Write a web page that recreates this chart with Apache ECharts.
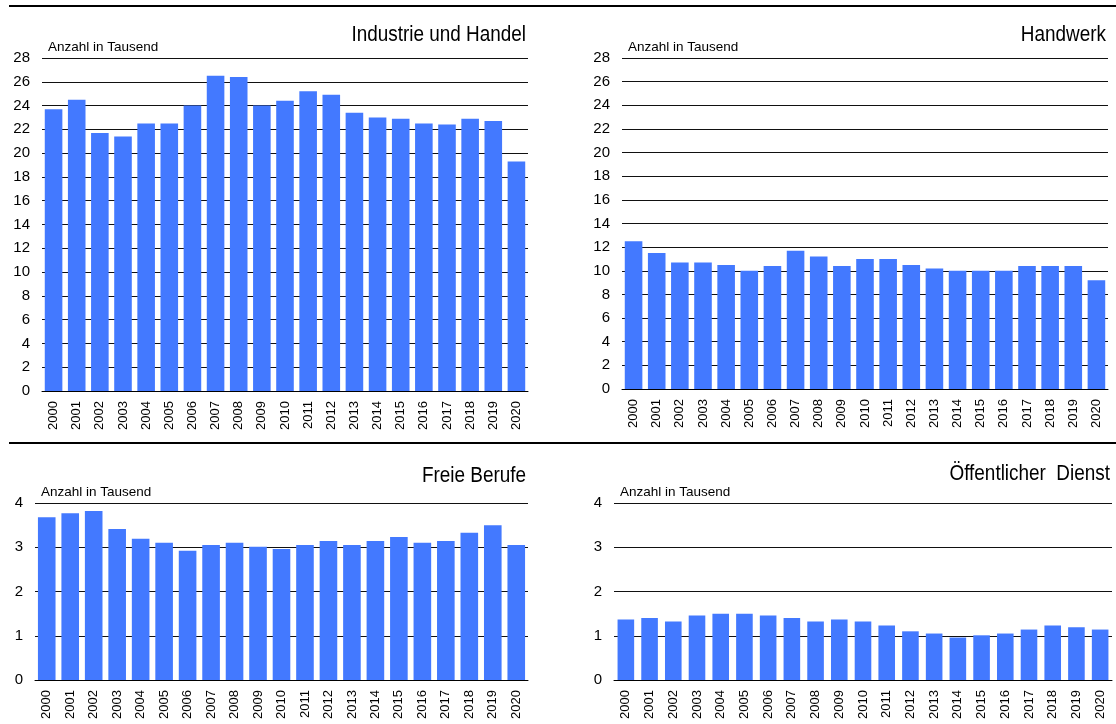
<!DOCTYPE html>
<html>
<head>
<meta charset="utf-8">
<script src="https://cdn.jsdelivr.net/npm/echarts@6/dist/echarts.min.js"></script>
<style>
  html, body { margin: 0; padding: 0; background: #fff; }
  #chart { width: 1116px; height: 724px; }
</style>
</head>
<body>
<div id="chart"></div>
<script>
// Years on the category axis
const years = ['2000','2001','2002','2003','2004','2005','2006','2007','2008','2009','2010',
               '2011','2012','2013','2014','2015','2016','2017','2018','2019','2020'];

// Counts in thousands per sector
const industrieHandel = [23.7, 24.5, 21.7, 21.4, 22.5, 22.5, 24.0, 26.5, 26.4, 24.0, 24.4,
                         25.2, 24.9, 23.4, 23.0, 22.9, 22.5, 22.4, 22.9, 22.7, 19.3];
const handwerk = [12.5, 11.5, 10.7, 10.7, 10.5, 10.0, 10.4, 11.7, 11.2, 10.4, 11.0,
                  11.0, 10.5, 10.2, 10.0, 10.0, 10.0, 10.4, 10.4, 10.4, 9.2];
const freieBerufe = [3.68, 3.77, 3.82, 3.41, 3.19, 3.10, 2.92, 3.05, 3.10, 3.01, 2.96,
                     3.05, 3.14, 3.05, 3.14, 3.23, 3.10, 3.14, 3.33, 3.50, 3.05];
const oeffentlicherDienst = [1.37, 1.40, 1.32, 1.46, 1.50, 1.50, 1.46, 1.40, 1.32, 1.37, 1.32,
                             1.23, 1.10, 1.05, 0.96, 1.01, 1.05, 1.14, 1.23, 1.19, 1.14];

// Panel titles and axis scales
const panelTitles = ['Industrie und Handel', 'Handwerk', 'Freie Berufe', 'Öffentlicher  Dienst'];
const yMax = [28, 28, 4, 4];
const yStep = [2, 2, 1, 1];
const unitLabel = 'Anzahl in Tausend';

const FONT = '"Liberation Sans", Arial, sans-serif';
const BAR = '#4379FF';

const grids = [
  { left: 42,  right: 588, top: 58,  bottom: 333 },
  { left: 622, right: 8,   top: 58,  bottom: 335 },
  { left: 35,  right: 588, top: 503, bottom: 44 },
  { left: 614, right: 4,   top: 503, bottom: 44 }
];
const seriesData = [industrieHandel, handwerk, freieBerufe, oeffentlicherDienst];
const gaps = ['24%', '24%', '25%', '30%'];

const xAxes = grids.map((g, i) => ({
  type: 'category', gridIndex: i, data: years,
  axisLine: { show: true, lineStyle: { color: '#000', width: 1 } },
  axisTick: { show: false },
  axisLabel: { rotate: 90, fontFamily: FONT, fontSize: 13, color: '#000', margin: 10 }
}));

const yAxes = grids.map((g, i) => ({
  type: 'value', gridIndex: i, min: 0, max: yMax[i], interval: yStep[i],
  name: unitLabel, nameLocation: 'end', nameGap: 4,
  nameTextStyle: { align: 'left', verticalAlign: 'bottom', fontFamily: FONT, fontSize: 13.5, color: '#000', padding: [0, 0, 0, 6] },
  axisLine: { show: false }, axisTick: { show: false },
  axisLabel: { fontFamily: FONT, fontSize: 15, color: '#000', margin: 12 },
  splitLine: { show: true, lineStyle: { color: '#111', width: 1 } }
}));

const series = seriesData.map((d, i) => ({
  type: 'bar', xAxisIndex: i, yAxisIndex: i, data: d,
  barCategoryGap: gaps[i],
  itemStyle: { color: BAR },
  animation: false
}));

// Titles are right-aligned at their anchor and horizontally condensed
const titlePos = [
  { x: 526, y: 35 }, { x: 1106, y: 35 }, { x: 526, y: 476 }, { x: 1110, y: 474 }
];

const graphics = [
  { type: 'line', shape: { x1: 9, y1: 6, x2: 1116, y2: 6 }, style: { stroke: '#000', lineWidth: 2 } },
  { type: 'line', shape: { x1: 9, y1: 443, x2: 1116, y2: 443 }, style: { stroke: '#000', lineWidth: 2 } }
].concat(panelTitles.map((t, i) => ({
  type: 'text', x: titlePos[i].x, y: titlePos[i].y, scaleX: 0.86,
  style: { text: t, fontFamily: FONT, fontSize: 22, fill: '#000', align: 'right', verticalAlign: 'middle' }
})));

const chart = echarts.init(document.getElementById('chart'), null, { renderer: 'canvas' });
chart.setOption({
  animation: false,
  grid: grids,
  xAxis: xAxes,
  yAxis: yAxes,
  series: series,
  graphic: graphics
});
</script>
</body>
</html>
